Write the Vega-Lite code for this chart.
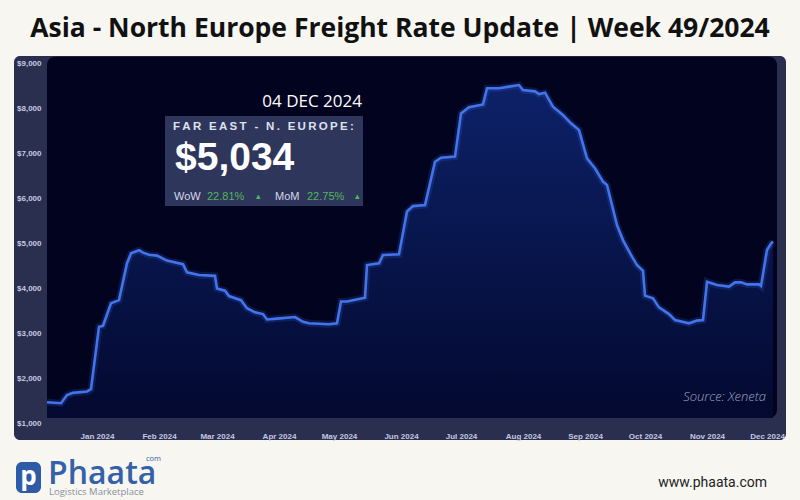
{
  "$schema": "https://vega.github.io/schema/vega-lite/v6.json",
  "width": 730,
  "height": 360,
  "autosize": {"type": "none"},
  "padding": {"left": 47, "top": 63, "right": 23, "bottom": 77},
  "background": "#f7f6f1",
  "title": {
    "text": "Asia - North Europe Freight Rate Update | Week 49/2024",
    "font": "Open Sans",
    "fontSize": 26.5,
    "fontWeight": 700,
    "color": "#111111",
    "anchor": "middle",
    "frame": "group",
    "offset": 13,
    "dx": -12
  },
  "config": {
    "view": {"stroke": null},
    "axis": {"grid": false, "domain": false, "ticks": false, "title": null, "labelFont": "Liberation Sans", "labelFontWeight": 700, "labelFontSize": 8, "labelColor": "#c5c9e0"}
  },
  "datasets": {
    "rates": [
      {"date": "2023-12-07", "rate": 1460},
      {"date": "2023-12-14", "rate": 1440},
      {"date": "2023-12-17", "rate": 1620},
      {"date": "2023-12-20", "rate": 1670},
      {"date": "2023-12-27", "rate": 1700},
      {"date": "2023-12-29", "rate": 1750},
      {"date": "2024-01-02", "rate": 3140},
      {"date": "2024-01-04", "rate": 3160},
      {"date": "2024-01-08", "rate": 3660},
      {"date": "2024-01-12", "rate": 3730},
      {"date": "2024-01-16", "rate": 4550},
      {"date": "2024-01-18", "rate": 4770},
      {"date": "2024-01-22", "rate": 4840},
      {"date": "2024-01-24", "rate": 4785},
      {"date": "2024-01-27", "rate": 4740},
      {"date": "2024-01-31", "rate": 4720},
      {"date": "2024-02-05", "rate": 4610},
      {"date": "2024-02-13", "rate": 4530},
      {"date": "2024-02-15", "rate": 4350},
      {"date": "2024-02-21", "rate": 4290},
      {"date": "2024-02-29", "rate": 4270},
      {"date": "2024-03-01", "rate": 3990},
      {"date": "2024-03-05", "rate": 3940},
      {"date": "2024-03-07", "rate": 3820},
      {"date": "2024-03-13", "rate": 3730},
      {"date": "2024-03-16", "rate": 3550},
      {"date": "2024-03-20", "rate": 3460},
      {"date": "2024-03-24", "rate": 3420},
      {"date": "2024-03-26", "rate": 3300},
      {"date": "2024-03-31", "rate": 3320},
      {"date": "2024-04-09", "rate": 3355},
      {"date": "2024-04-13", "rate": 3250},
      {"date": "2024-04-16", "rate": 3215},
      {"date": "2024-04-26", "rate": 3195},
      {"date": "2024-04-30", "rate": 3215},
      {"date": "2024-05-02", "rate": 3700},
      {"date": "2024-05-05", "rate": 3700},
      {"date": "2024-05-14", "rate": 3785},
      {"date": "2024-05-15", "rate": 4510},
      {"date": "2024-05-21", "rate": 4550},
      {"date": "2024-05-23", "rate": 4735},
      {"date": "2024-05-31", "rate": 4750},
      {"date": "2024-06-04", "rate": 5700},
      {"date": "2024-06-07", "rate": 5820},
      {"date": "2024-06-13", "rate": 5845},
      {"date": "2024-06-18", "rate": 6805},
      {"date": "2024-06-21", "rate": 6895},
      {"date": "2024-06-28", "rate": 6920},
      {"date": "2024-07-01", "rate": 7880},
      {"date": "2024-07-05", "rate": 8015},
      {"date": "2024-07-12", "rate": 8080},
      {"date": "2024-07-14", "rate": 8440},
      {"date": "2024-07-20", "rate": 8440},
      {"date": "2024-07-25", "rate": 8475},
      {"date": "2024-07-30", "rate": 8510},
      {"date": "2024-08-01", "rate": 8400},
      {"date": "2024-08-07", "rate": 8370},
      {"date": "2024-08-09", "rate": 8310},
      {"date": "2024-08-12", "rate": 8340},
      {"date": "2024-08-16", "rate": 8030},
      {"date": "2024-08-21", "rate": 7845},
      {"date": "2024-08-25", "rate": 7660},
      {"date": "2024-08-29", "rate": 7510},
      {"date": "2024-09-02", "rate": 6880},
      {"date": "2024-09-06", "rate": 6660},
      {"date": "2024-09-10", "rate": 6365},
      {"date": "2024-09-12", "rate": 6290},
      {"date": "2024-09-17", "rate": 5400},
      {"date": "2024-09-20", "rate": 5065},
      {"date": "2024-09-24", "rate": 4735},
      {"date": "2024-09-27", "rate": 4510},
      {"date": "2024-09-30", "rate": 4380},
      {"date": "2024-10-01", "rate": 3830},
      {"date": "2024-10-05", "rate": 3770},
      {"date": "2024-10-08", "rate": 3570},
      {"date": "2024-10-13", "rate": 3420},
      {"date": "2024-10-16", "rate": 3290},
      {"date": "2024-10-23", "rate": 3215},
      {"date": "2024-10-27", "rate": 3275},
      {"date": "2024-10-30", "rate": 3290},
      {"date": "2024-11-01", "rate": 4140},
      {"date": "2024-11-06", "rate": 4065},
      {"date": "2024-11-12", "rate": 4030},
      {"date": "2024-11-15", "rate": 4125},
      {"date": "2024-11-18", "rate": 4125},
      {"date": "2024-11-21", "rate": 4080},
      {"date": "2024-11-27", "rate": 4080},
      {"date": "2024-11-28", "rate": 4045},
      {"date": "2024-12-01", "rate": 4845},
      {"date": "2024-12-03", "rate": 4990},
      {"date": "2024-12-04", "rate": 5034}
    ]
  },
  "encoding": {
    "x": {
      "field": "date", "type": "temporal",
      "scale": {"type": "utc", "domain": [{"year": 2023, "month": 12, "date": 7, "utc": true}, {"year": 2024, "month": 12, "date": 6, "utc": true}]},
      "axis": {"zindex": 2, "labelExpr": "utcFormat(datum.value, '%b %Y')", "tickCount": {"interval": "month", "step": 1}, "labelPadding": 9, "labelFlush": false, "labelOverlap": false}
    },
    "y": {
      "field": "rate", "type": "quantitative",
      "scale": {"domain": [1000, 9000], "zero": false, "nice": false},
      "axis": {"zindex": 2, "values": [1000, 2000, 3000, 4000, 5000, 6000, 7000, 8000, 9000], "format": "$,d", "labelPadding": 6}
    }
  },
  "layer": [
    {
      "data": {"values": [{"start": "2023-11-20T12:00:00Z", "end": "2024-12-10T12:00:00Z", "low": 622, "high": 9156}]},
      "mark": {"type": "rect", "color": "#2a2f4f", "cornerRadius": 6, "clip": false},
      "encoding": {"x": {"field": "start", "type": "temporal"}, "x2": {"field": "end"}, "y": {"field": "low", "type": "quantitative"}, "y2": {"field": "high"}}
    },
    {
      "data": {"values": [{"start": "2023-12-07", "end": "2024-12-06", "low": 1111, "high": 9140}]},
      "mark": {"type": "rect", "color": "#02031f", "cornerRadius": 8, "clip": false},
      "encoding": {"x": {"field": "start", "type": "temporal"}, "x2": {"field": "end"}, "y": {"field": "low", "type": "quantitative"}, "y2": {"field": "high"}}
    },
    {
      "data": {"name": "rates"},
      "mark": {"type": "area", "clip": false, "color": {"x1": 0, "y1": 0, "x2": 0, "y2": 1, "gradient": "linear", "stops": [{"offset": 0, "color": "#0d2168"}, {"offset": 1, "color": "#03092f"}]}},
      "encoding": {"y2": {"datum": 1111}}
    },
    {
      "data": {"name": "rates"},
      "mark": {"type": "line", "color": "#3f6fe8", "strokeWidth": 7, "opacity": 0.18, "clip": false}
    },
    {
      "data": {"name": "rates"},
      "mark": {"type": "line", "color": "#4474ec", "strokeWidth": 2.6, "clip": false}
    },
    {
      "data": {"values": [{"start": "2024-02-04", "end": "2024-05-13", "low": 5822, "high": 7822}]},
      "mark": {"type": "rect", "color": "#2f365c", "clip": false},
      "encoding": {"x": {"field": "start", "type": "temporal"}, "x2": {"field": "end"}, "y": {"field": "low", "type": "quantitative"}, "y2": {"field": "high"}}
    },
    {
      "data": {"values": [{"date": "2024-05-12T12:00:00Z", "rate": 8022, "label": "04 DEC 2024"}]},
      "mark": {"type": "text", "align": "right", "baseline": "alphabetic", "font": "Open Sans", "fontSize": 17, "color": "#ffffff", "clip": false},
      "encoding": {"text": {"field": "label"}}
    },
    {
      "data": {"values": [{"date": "2024-02-08", "rate": 7522, "label": "F\u2009A\u2009R\u2009\u00a0\u2009E\u2009A\u2009S\u2009T\u2009\u00a0\u2009-\u2009\u00a0\u2009N\u2009.\u2009\u00a0\u2009E\u2009U\u2009R\u2009O\u2009P\u2009E\u2009:"}]},
      "mark": {"type": "text", "align": "left", "baseline": "alphabetic", "font": "Liberation Sans", "fontWeight": 700, "fontSize": 11.5, "color": "#dfe1ee", "clip": false},
      "encoding": {"text": {"field": "label"}}
    },
    {
      "data": {"values": [{"date": "2024-02-09", "rate": 6622, "label": "$5,034"}]},
      "mark": {"type": "text", "align": "left", "baseline": "alphabetic", "font": "Liberation Sans", "fontWeight": 700, "fontSize": 39, "color": "#ffffff", "clip": false},
      "encoding": {"text": {"field": "label"}}
    },
    {
      "data": {"values": [{"date": "2024-02-08T12:00:00Z", "rate": 5956, "label": "WoW"}, {"date": "2024-03-30", "rate": 5956, "label": "MoM"}]},
      "mark": {"type": "text", "align": "left", "baseline": "alphabetic", "font": "Liberation Sans", "fontSize": 11, "color": "#d5d8e8", "clip": false},
      "encoding": {"text": {"field": "label"}}
    },
    {
      "data": {"values": [{"date": "2024-02-25", "rate": 5956, "label": "22.81%"}, {"date": "2024-04-15", "rate": 5956, "label": "22.75%"}]},
      "mark": {"type": "text", "align": "left", "baseline": "alphabetic", "font": "Liberation Sans", "fontSize": 11, "color": "#4fb85a", "clip": false},
      "encoding": {"text": {"field": "label"}}
    },
    {
      "data": {"values": [{"date": "2024-03-20T12:00:00Z", "rate": 5985, "label": "▴"}, {"date": "2024-05-09", "rate": 5985, "label": "▴"}]},
      "mark": {"type": "text", "align": "left", "baseline": "alphabetic", "font": "DejaVu Sans", "fontSize": 9, "color": "#4fb85a", "clip": false},
      "encoding": {"text": {"field": "label"}}
    },
    {
      "data": {"values": [{"date": "2024-11-30T12:00:00Z", "rate": 1489, "label": "Source: Xeneta"}]},
      "mark": {"type": "text", "align": "right", "baseline": "alphabetic", "font": "Open Sans", "fontStyle": "italic", "fontWeight": 300, "fontSize": 13, "color": "#9ea4c4", "clip": false},
      "encoding": {"text": {"field": "label"}}
    },
    {
      "data": {"values": [{"start": "2023-11-21T12:00:00Z", "end": "2023-12-04", "low": -556, "high": 134}]},
      "mark": {"type": "rect", "color": "#2d5ba8", "cornerRadius": 6, "clip": false},
      "encoding": {"x": {"field": "start", "type": "temporal"}, "x2": {"field": "end"}, "y": {"field": "low", "type": "quantitative"}, "y2": {"field": "high"}}
    },
    {
      "data": {"values": [{"date": "2023-11-27T18:00:00Z", "rate": -380, "label": "p"}]},
      "mark": {"type": "text", "align": "center", "baseline": "alphabetic", "font": "Open Sans", "fontWeight": 700, "fontSize": 26, "color": "#ffffff", "clip": false},
      "encoding": {"text": {"field": "label"}}
    },
    {
      "data": {"values": [{"date": "2023-12-07T12:00:00Z", "rate": -356, "label": "Phaata"}]},
      "mark": {"type": "text", "align": "left", "baseline": "alphabetic", "font": "Open Sans", "fontWeight": 600, "fontSize": 32, "color": "#3461a8", "clip": false},
      "encoding": {"text": {"field": "label"}}
    },
    {
      "data": {"values": [{"date": "2024-01-25T12:00:00Z", "rate": 160, "label": "com"}]},
      "mark": {"type": "text", "align": "left", "baseline": "alphabetic", "font": "Open Sans", "fontSize": 7.5, "color": "#3461a8", "clip": false},
      "encoding": {"text": {"field": "label"}}
    },
    {
      "data": {"values": [{"date": "2023-12-08", "rate": -600, "label": "Logistics Marketplace"}]},
      "mark": {"type": "text", "align": "left", "baseline": "alphabetic", "font": "Open Sans", "fontSize": 9.5, "color": "#8a8f9a", "clip": false},
      "encoding": {"text": {"field": "label"}}
    },
    {
      "data": {"values": [{"date": "2024-12-01", "rate": -422, "label": "www.phaata.com"}]},
      "mark": {"type": "text", "align": "right", "baseline": "alphabetic", "font": "Roboto", "fontSize": 14, "color": "#222222", "clip": false},
      "encoding": {"text": {"field": "label"}}
    }
  ]
}
